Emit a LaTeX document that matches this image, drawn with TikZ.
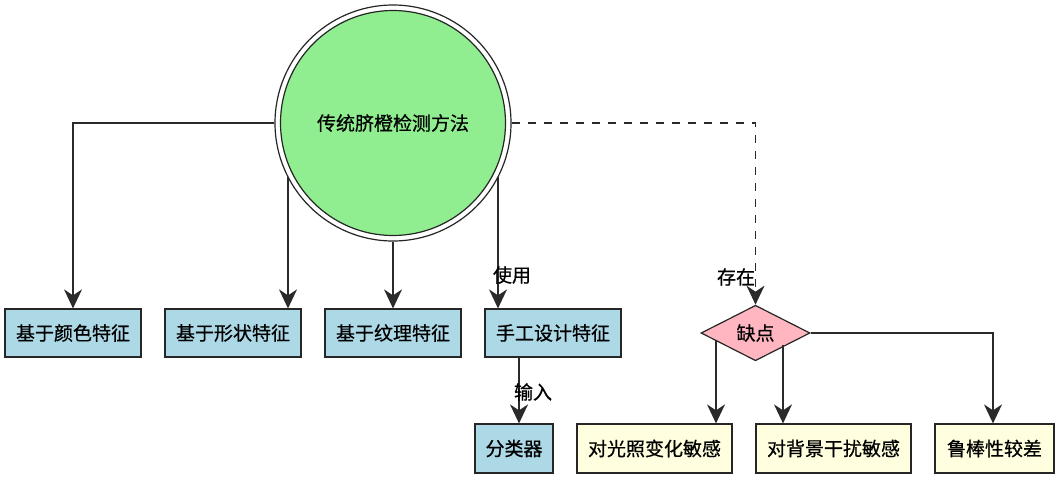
\documentclass[tikz,border=0pt]{standalone}
\usepackage{fontspec}
\setmainfont{Noto Sans CJK SC}[FakeBold=0.6]
\usetikzlibrary{shapes.geometric,arrows.meta,calc}
\definecolor{lgreen}{HTML}{90EE90}
\definecolor{lblue}{HTML}{ADD8E6}
\definecolor{lpink}{HTML}{FFB6C1}
\definecolor{lyellow}{HTML}{FFFFE0}
\definecolor{edge}{HTML}{2A2A2A}
\begin{document}
\begin{tikzpicture}[x=1pt,y=-1pt,
  font=\fontsize{19}{21}\selectfont,
  box/.style={draw=black!85,line width=1.2pt,rectangle,inner sep=0pt,minimum height=48pt},
  bluebox/.style={box,fill=lblue,minimum width=136pt},
  yelbox/.style={box,fill=lyellow,minimum width=155pt},
  arr/.style={draw=edge,line width=1.3pt,-{Stealth[length=19pt,width=18pt,inset=6pt]}},
  lbl/.style={inner sep=0pt}]
\useasboundingbox[fill=white] (0,0) rectangle (1057,479);
% circle
\node[circle,draw=black!85,line width=1.2pt,minimum size=236pt,inner sep=0pt] (co) at (393,123) {};
\node[circle,draw=black!85,line width=1.2pt,fill=lgreen,minimum size=225pt,inner sep=0pt] (c) at (393,123) {传统脐橙检测方法};
% boxes
\node[bluebox] (b1) at (73,333) {基于颜色特征};
\node[bluebox] (b2) at (233,333) {基于形状特征};
\node[bluebox] (b3) at (393,333) {基于纹理特征};
\node[bluebox] (b4) at (553,333) {手工设计特征};
\node[box,fill=lblue,minimum width=78pt,minimum height=49pt] (cls) at (514,448.5) {分类器};
\node[diamond,draw=black!85,line width=1.2pt,fill=lpink,minimum width=109pt,minimum height=48pt,inner sep=0pt] (d) at (755.5,333) {缺点};
\node[yelbox,minimum height=49pt] (ya) at (654.5,448.5) {对光照变化敏感};
\node[yelbox,minimum height=49pt] (yb) at (833.5,448.5) {对背景干扰敏感};
\node[box,fill=lyellow,minimum width=119pt,minimum height=49pt] (yc) at (994.5,448.5) {鲁棒性较差};
% connectors
\coordinate (s2) at ($(co.center)+(-105,54)$);
\coordinate (s4) at ($(co.center)+(105,54)$);
\draw[arr] (co.west) -| (b1.north);
\draw[arr] (s2) -- (s2 |- b2.north);
\draw[arr] (co.south) -- (b3.north);
\draw[arr] (s4) -- (s4 |- b4.north);
\node[lbl] (l1) at (512,275) {使用};
\coordinate (cin) at ($(cls.north)+(5,0)$);
\draw[arr] (cin |- b4.south) -- (cin);
\node[lbl] (l2) at (533,392) {输入};
\draw[arr,dash pattern=on 8pt off 8pt] (co.east) -| (d.north);
\node[lbl] (l3) at (736,277) {存在};
\coordinate (da) at ($(d.center)+(-39.5,6.6)$);
\coordinate (db) at ($(d.center)+(27.5,11.9)$);
\coordinate (dc) at ($(yc.north)+(-1.5,0)$);
\draw[arr] (da) -- (da |- ya.north);
\draw[arr] (db) -- (db |- yb.north);
\draw[arr] (d.east) -| (dc);
\end{tikzpicture}
\end{document}
